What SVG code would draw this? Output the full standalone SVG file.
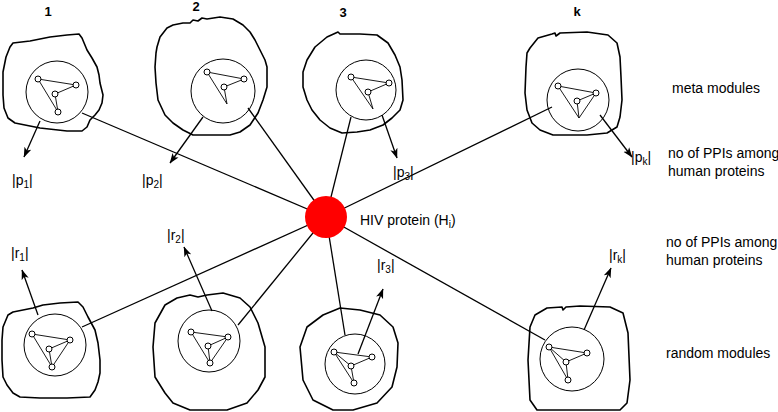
<svg xmlns="http://www.w3.org/2000/svg" width="778" height="412" viewBox="0 0 778 412">
<defs>
<marker id="ah" viewBox="0 0 10 10" refX="9.5" refY="5" markerWidth="10" markerHeight="10" markerUnits="userSpaceOnUse" orient="auto">
<path d="M0,1.3 L10,5 L0,8.7 L2.5,5 Z" fill="#000"/>
</marker>
</defs>
<style>
.blob{fill:none;stroke:#000;stroke-width:1.6;stroke-linejoin:round}
.inner{fill:none;stroke:#000;stroke-width:1}
.e{fill:none;stroke:#000;stroke-width:0.9}
.n{fill:#fff;stroke:#000;stroke-width:1}
.conn{stroke:#000;stroke-width:1.3;fill:none}
.arr{stroke:#000;stroke-width:1.3;fill:none;marker-end:url(#ah)}
text{font-family:"Liberation Sans",Arial,sans-serif;font-size:14px;fill:#000}
.num{font-weight:bold;font-size:13px;text-anchor:middle}
.lab{font-size:14px}
</style>
<rect width="778" height="412" fill="#fff"/>

<g id="connectors">
<line class="conn" x1="82" y1="113" x2="326" y2="217"/>
<line class="conn" x1="248" y1="108" x2="326" y2="217"/>
<line class="conn" x1="351" y1="117" x2="326" y2="217"/>
<line class="conn" x1="552" y1="107" x2="326" y2="217"/>
<line class="conn" x1="82" y1="327" x2="326" y2="217"/>
<line class="conn" x1="238" y1="325" x2="326" y2="217"/>
<line class="conn" x1="345" y1="335" x2="326" y2="217"/>
<line class="conn" x1="545" y1="340" x2="326" y2="217"/>
<line class="arr" x1="40" y1="121" x2="24" y2="157"/>
<line class="arr" x1="203" y1="117" x2="170" y2="163"/>
<line class="arr" x1="382" y1="115" x2="397" y2="158"/>
<line class="arr" x1="600" y1="115" x2="632" y2="157"/>
<line class="arr" x1="38" y1="315" x2="22" y2="270"/>
<line class="arr" x1="212" y1="311" x2="184" y2="247"/>
<line class="arr" x1="358" y1="354" x2="383" y2="289"/>
<line class="arr" x1="584" y1="330" x2="611" y2="268"/>
</g>

<g id="meta1">
<path class="blob" d="M10,47 L13,43 L30,41 L50,37 L67,35 L79,34 L82,38 L87,50 L92,58 L97,67 L99,75 L100,83 L103,95 L102,103 L99,110 L95,115 L90,120 L87,127 L82,131 L67,131 L40,128 L15,123 L8,118 L4,108 L3,95 L3,72 L6,57 Z"/>
<circle class="inner" cx="57" cy="92" r="31"/>
<path class="e" d="M38,79 L76,85 M38,79 L58,112 M55,94 L76,85 M55,94 L58,112"/>
<circle class="n" cx="38" cy="79" r="3"/><circle class="n" cx="76" cy="85" r="3"/><circle class="n" cx="55" cy="94" r="3"/><circle class="n" cx="58" cy="112" r="3"/>
<text class="num" x="48" y="16">1</text>
<text class="lab" x="12" y="185">|p<tspan font-size="10" dy="3">1</tspan><tspan dy="-3">|</tspan></text>
</g>

<g id="meta2">
<path class="blob" d="M157,47 L160,37 L167,28 L173,25 L183,23 L190,23 L193,20 L198,21 L202,18 L207,19 L220,17 L233,19 L243,25 L250,32 L255,40 L260,50 L265,60 L267,67 L267,87 L263,100 L258,113 L250,125 L240,132 L230,135 L193,135 L183,130 L173,123 L165,115 L158,100 L156,83 L155,67 L156,53 Z"/>
<circle class="inner" cx="223" cy="91" r="32"/>
<path class="e" d="M207,72 L244,79 M207,72 L227,104 M224,87 L244,79 M224,87 L227,104"/>
<circle class="n" cx="207" cy="72" r="3"/><circle class="n" cx="244" cy="79" r="3"/><circle class="n" cx="224" cy="87" r="3"/>
<text class="num" x="196" y="11">2</text>
<text class="lab" x="142" y="185">|p<tspan font-size="10" dy="3">2</tspan><tspan dy="-3">|</tspan></text>
</g>

<g id="meta3">
<path class="blob" d="M303,72 L307,60 L315,47 L327,37 L338,32 L340,34 L360,34 L377,35 L388,43 L395,55 L400,67 L402,80 L403,100 L400,110 L392,118 L383,125 L370,130 L357,132 L342,133 L330,128 L320,120 L312,110 L307,100 L303,87 Z"/>
<circle class="inner" cx="366" cy="90" r="30"/>
<path class="e" d="M351,77 L389,83 M351,77 L373,109 M368,92 L389,83 M368,92 L373,109"/>
<circle class="n" cx="351" cy="77" r="3"/><circle class="n" cx="389" cy="83" r="3"/><circle class="n" cx="368" cy="92" r="3"/>
<text class="num" x="343" y="17">3</text>
<text class="lab" x="393" y="177">|p<tspan font-size="10" dy="3">3</tspan><tspan dy="-3">|</tspan></text>
</g>

<g id="metak">
<path class="blob" d="M530,48 L538,38 L552,34 L555,33 L556,36 L560,33 L587,32 L608,35 L617,43 L620,57 L621,77 L622,100 L620,117 L617,127 L607,133 L587,135 L553,135 L540,130 L532,123 L527,110 L525,93 L526,67 L527,53 Z"/>
<circle class="inner" cx="578" cy="100" r="31"/>
<path class="e" d="M558,86 L596,93 M558,86 L579,118 M596,93 L579,118 M577,101 L596,93 M577,101 L579,118"/>
<circle class="n" cx="558" cy="86" r="3"/><circle class="n" cx="596" cy="93" r="3"/><circle class="n" cx="577" cy="101" r="3"/>
<text class="num" x="577" y="16">k</text>
<text class="lab" x="631" y="162">|p<tspan font-size="10" dy="3">k</tspan><tspan dy="-3">|</tspan></text>
</g>

<g id="rand1">
<path class="blob" d="M8,315 L13,312 L33,308 L43,305 L60,303 L78,302 L83,307 L88,317 L95,330 L98,343 L100,360 L100,373 L98,382 L95,390 L90,397 L67,398 L40,398 L20,397 L13,393 L7,385 L3,377 L2,360 L2,340 L3,327 Z"/>
<circle class="inner" cx="55" cy="345" r="31"/>
<path class="e" d="M32,334 L70,340 L52,367 Z M49,349 L70,340 M49,349 L52,367"/>
<circle class="n" cx="32" cy="334" r="3"/><circle class="n" cx="70" cy="340" r="3"/><circle class="n" cx="49" cy="349" r="3"/><circle class="n" cx="52" cy="367" r="3"/>
<text class="lab" x="11" y="258">|r<tspan font-size="10" dy="3">1</tspan><tspan dy="-3">|</tspan></text>
</g>

<g id="rand2">
<path class="blob" d="M165,305 L177,298 L190,295 L198,297 L207,295 L223,293 L240,298 L250,307 L258,323 L265,347 L265,377 L258,390 L247,403 L227,410 L190,410 L173,403 L165,393 L155,377 L153,347 L155,323 Z"/>
<circle class="inner" cx="209" cy="341" r="31"/>
<path class="e" d="M191,332 L228,337 L210,363 Z M208,346 L228,337 M208,346 L210,363"/>
<circle class="n" cx="191" cy="332" r="3"/><circle class="n" cx="228" cy="337" r="3"/><circle class="n" cx="208" cy="346" r="3"/><circle class="n" cx="210" cy="363" r="3"/>
<text class="lab" x="167" y="240">|r<tspan font-size="10" dy="3">2</tspan><tspan dy="-3">|</tspan></text>
</g>

<g id="rand3">
<path class="blob" d="M300,347 L307,327 L323,315 L340,308 L360,310 L380,315 L393,327 L398,343 L397,367 L392,387 L377,403 L353,410 L333,410 L313,400 L303,380 Z"/>
<circle class="inner" cx="355" cy="364" r="30"/>
<path class="e" d="M334,352 L372,357 M334,352 L351,366 M334,352 L354,383 M351,366 L372,357 M351,366 L354,383"/>
<circle class="n" cx="334" cy="352" r="3"/><circle class="n" cx="372" cy="357" r="3"/><circle class="n" cx="351" cy="366" r="3"/><circle class="n" cx="354" cy="383" r="3"/>
<text class="lab" x="377" y="270">|r<tspan font-size="10" dy="3">3</tspan><tspan dy="-3">|</tspan></text>
</g>

<g id="randk">
<path class="blob" d="M530,327 L535,315 L547,308 L562,307 L563,310 L566,307 L580,306 L610,307 L623,313 L628,333 L630,380 L627,403 L620,410 L537,410 L530,400 L528,360 Z"/>
<circle class="inner" cx="572" cy="359" r="32"/>
<path class="e" d="M549,347 L587,353 M549,347 L566,362 M549,347 L568,380 M566,362 L587,353 M566,362 L568,380"/>
<circle class="n" cx="549" cy="347" r="3"/><circle class="n" cx="587" cy="353" r="3"/><circle class="n" cx="566" cy="362" r="3"/><circle class="n" cx="568" cy="380" r="3"/>
<text class="lab" x="609" y="260">|r<tspan font-size="10" dy="3">k</tspan><tspan dy="-3">|</tspan></text>
</g>

<g id="hiv">
<circle cx="326" cy="217" r="21" fill="#f00"/>
<text x="360" y="225">HIV protein (H<tspan font-size="10" dy="3">i</tspan><tspan dy="-3">)</tspan></text>
</g>

<g id="legend">
<text x="672" y="93">meta modules</text>
<text x="668" y="158">no of PPIs among</text>
<text x="668" y="176">human proteins</text>
<text x="666" y="247">no of PPIs among</text>
<text x="666" y="265">human proteins</text>
<text x="666" y="358">random modules</text>
</g>
</svg>
